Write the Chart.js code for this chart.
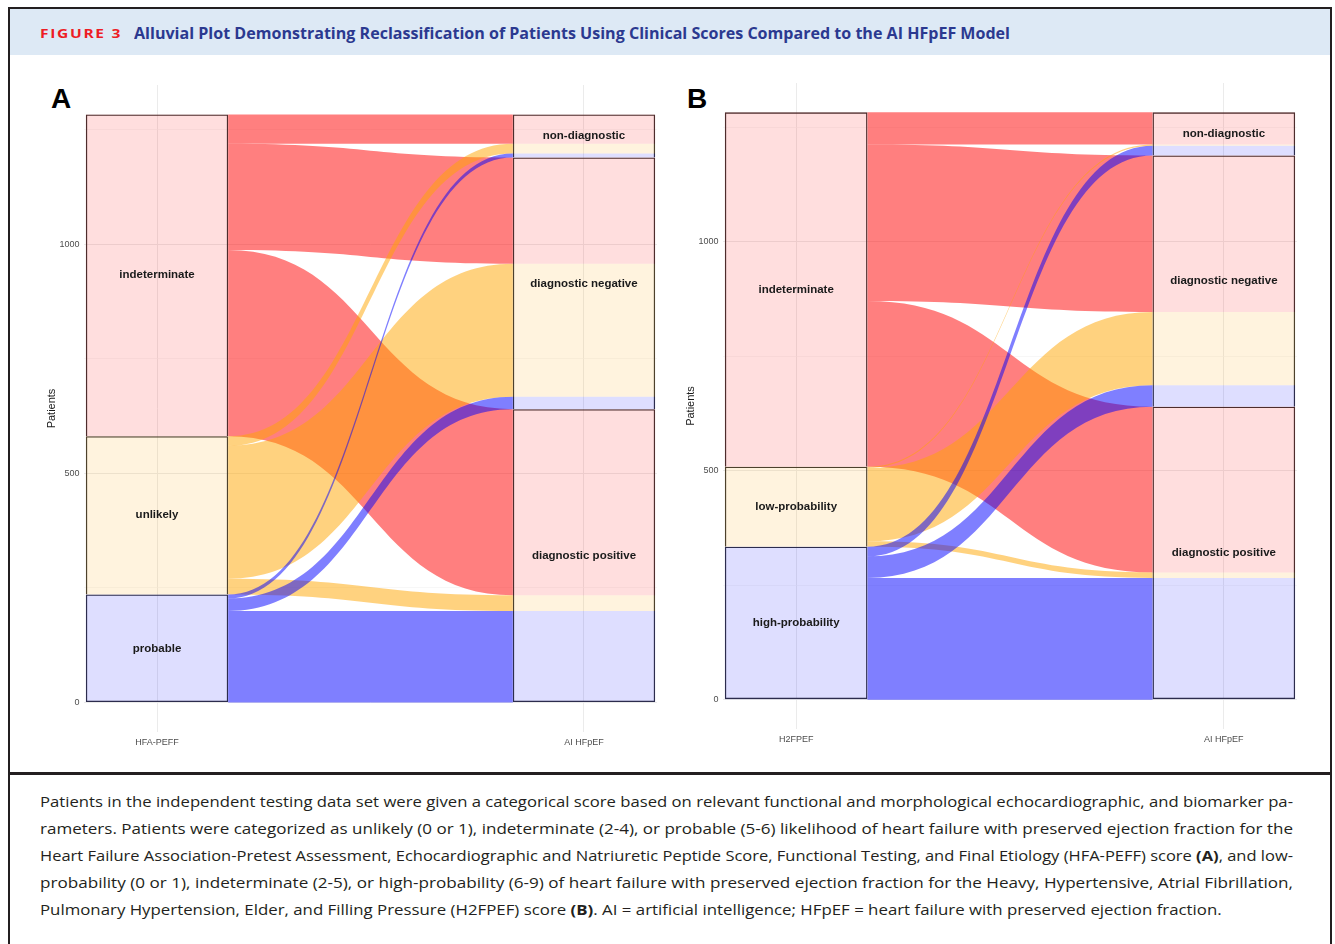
<!DOCTYPE html>
<html>
<head>
<meta charset="utf-8">
<script src="https://cdn.jsdelivr.net/npm/chart.js@4.4.1/dist/chart.umd.min.js"></script>
<style>
  html, body { margin: 0; padding: 0; background: #fff; }
  body { width: 1335px; height: 944px; position: relative; overflow: hidden; font-family: 'Liberation Sans', Arial, sans-serif; }
  #frame { position: absolute; left: 8px; top: 7px; width: 1324px; height: 960px; border: 2px solid #231f20; box-sizing: border-box; }
  #band { position: absolute; left: 10px; top: 9px; width: 1320px; height: 46px; background: #dde9f5; }
  .fit { position: absolute; white-space: nowrap; display: inline-block; transform-origin: 0 50%; }
  #fig { left: 40px; top: 25px; font: 700 13px/16px 'Open Sans', sans-serif; color: #ed1c24; letter-spacing: 1.4px; }
  #ttl { left: 134px; top: 23px; font: 700 16px/20px 'Open Sans', sans-serif; color: #2b3990; }
  #sep { position: absolute; left: 10px; top: 772px; width: 1320px; height: 3px; background: #231f20; }
  .cap { position: absolute; left: 40px; font: 400 14px/27px 'Open Sans', sans-serif; color: #231f20; }
  .panel { position: absolute; font: 700 28px/28px 'Liberation Sans', Arial, sans-serif; color: #000; }
  canvas { position: absolute; }
</style>
</head>
<body>
<div id="frame"></div>
<div id="band"></div>
<span id="fig" class="fit">FIGURE 3</span>
<span id="ttl" class="fit">Alluvial Plot Demonstrating Reclassification of Patients Using Clinical Scores Compared to the AI HFpEF Model</span>
<div class="panel" style="left:51px;top:85px;">A</div>
<div class="panel" style="left:687px;top:85px;">B</div>
<canvas id="chartA" width="650" height="710" style="left:20px;top:60px;width:650px;height:710px;"></canvas>
<canvas id="chartB" width="651" height="709" style="left:659px;top:58px;width:651px;height:709px;"></canvas>
<div id="sep"></div>
<span class="cap fit" id="c1" style="top:788px;">Patients in the independent testing data set were given a categorical score based on relevant functional and morphological echocardiographic, and biomarker pa-</span>
<span class="cap fit" id="c2" style="top:815px;">rameters. Patients were categorized as unlikely (0 or 1), indeterminate (2-4), or probable (5-6) likelihood of heart failure with preserved ejection fraction for the</span>
<span class="cap fit" id="c3" style="top:842px;">Heart Failure Association-Pretest Assessment, Echocardiographic and Natriuretic Peptide Score, Functional Testing, and Final Etiology (HFA-PEFF) score <b>(A)</b>, and low-</span>
<span class="cap fit" id="c4" style="top:869px;">probability (0 or 1), indeterminate (2-5), or high-probability (6-9) of heart failure with preserved ejection fraction for the Heavy, Hypertensive, Atrial Fibrillation,</span>
<span class="cap fit" id="c5" style="top:896px;">Pulmonary Hypertension, Elder, and Filling Pressure (H2FPEF) score <b>(B)</b>. AI = artificial intelligence; HFpEF = heart failure with preserved ejection fraction.</span>

<script>
// ---------------- DATA ----------------
const rightStrata = ['diagnostic positive', 'diagnostic negative', 'non-diagnostic']; // bottom -> top

// Panel A: HFA-PEFF (bottom -> top)
const leftStrataA = ['probable', 'unlikely', 'indeterminate'];
const probableToAI = [200, 27, 9];          // to positive, negative, non-diagnostic
const unlikelyToAI = [34, 290, 21];
const indeterminateHFAToAI = [406, 232, 64];
const axisNamesA = ['HFA-PEFF', 'AI HFpEF'];

// Panel B: H2FPEF (bottom -> top)
const leftStrataB = ['high-probability', 'low-probability', 'indeterminate'];
const highProbToAI = [266, 47, 21];
const lowProbToAI = [12, 160, 3];
const indeterminateH2ToAI = [362, 342, 70];
const axisNamesB = ['H2FPEF', 'AI HFpEF'];

const yTickValues = [0, 500, 1000];
const yMinorValues = [250, 750, 1250];

// ---------------- STYLE ----------------
const flowColors = ['rgba(0,0,255,0.5)', 'rgba(255,165,0,0.5)', 'rgba(255,0,0,0.5)'];
const strataColors = ['rgba(0,0,255,0.13)', 'rgba(255,165,0,0.13)', 'rgba(255,0,0,0.13)'];
const stratumWidth = 1 / 3;
const xPad = 0.171;

Chart.defaults.font.family = "'Liberation Sans', Arial, Helvetica, sans-serif";
Chart.defaults.animation = false;

function sum(a) { return a.reduce((s, v) => s + v, 0); }

function makePanel(canvasId, leftNames, matrix, axisNames) {
  const nL = leftNames.length, nR = rightStrata.length;
  const leftTot = matrix.map(sum);
  const rightTot = rightStrata.map((_, j) => sum(matrix.map(r => r[j])));
  const total = sum(leftTot);
  const leftBase = [], rightBase = [];
  let acc = 0; leftTot.forEach(v => { leftBase.push(acc); acc += v; });
  acc = 0; rightTot.forEach(v => { rightBase.push(acc); acc += v; });

  const flows = [];
  for (let i = 0; i < nL; i++) {
    for (let j = 0; j < nR; j++) {
      const v = matrix[i][j];
      let lLo = leftBase[i]; for (let k = 0; k < j; k++) lLo += matrix[i][k];
      let rLo = rightBase[j]; for (let k = 0; k < i; k++) rLo += matrix[k][j];
      flows.push({ i, j, v, l: [lLo, lLo + v], r: [rLo, rLo + v] });
    }
  }

  const segData = [], segColors = [];
  for (let i = 0; i < nL; i++) { segData.push({ x: 1, y: [leftBase[i], leftBase[i] + leftTot[i]] }); segColors.push(strataColors[i]); }
  flows.forEach(f => { segData.push({ x: 2, y: f.r }); segColors.push(strataColors[f.i]); });
  const outData = [], outBottom = [];
  for (let i = 0; i < nL; i++) { outData.push({ x: 1, y: [leftBase[i], leftBase[i] + leftTot[i]] }); outBottom.push(i === 0); }
  for (let j = 0; j < nR; j++) { outData.push({ x: 2, y: [rightBase[j], rightBase[j] + rightTot[j]] }); outBottom.push(j === 0); }

  const labels = [];
  for (let i = 0; i < nL; i++) labels.push({ x: 1, y: leftBase[i] + leftTot[i] / 2, t: leftNames[i] });
  for (let j = 0; j < nR; j++) labels.push({ x: 2, y: rightBase[j] + rightTot[j] / 2, t: rightStrata[j] });

  const alluvial = {
    id: 'alluvial',
    beforeDatasetsDraw(chart) {
      const { ctx } = chart; const xs = chart.scales.x, ys = chart.scales.y;
      const x0 = xs.getPixelForValue(1 + stratumWidth / 2);
      const x1 = xs.getPixelForValue(2 - stratumWidth / 2);
      const xm = (x0 + x1) / 2;
      ctx.save();
      const ordered = flows.slice().sort((a, b) => b.i - a.i);
      ordered.forEach(f => {
        if (f.v <= 0) return;
        const lt = ys.getPixelForValue(f.l[1]), lb = ys.getPixelForValue(f.l[0]);
        const rt = ys.getPixelForValue(f.r[1]), rb = ys.getPixelForValue(f.r[0]);
        ctx.beginPath();
        ctx.moveTo(x0, lt);
        ctx.bezierCurveTo(xm, lt, xm, rt, x1, rt);
        ctx.lineTo(x1, rb);
        ctx.bezierCurveTo(xm, rb, xm, lb, x0, lb);
        ctx.closePath();
        ctx.fillStyle = flowColors[f.i];
        ctx.fill();
      });
      ctx.restore();
    },
    afterDatasetsDraw(chart) {
      const { ctx } = chart; const xs = chart.scales.x, ys = chart.scales.y;
      ctx.save();
      ctx.font = "bold 11.5px 'Liberation Sans', Arial, sans-serif";
      ctx.fillStyle = '#1a1a1a';
      ctx.textAlign = 'center';
      ctx.textBaseline = 'middle';
      labels.forEach(l => ctx.fillText(l.t, xs.getPixelForValue(l.x), ys.getPixelForValue(l.y)));
      ctx.restore();
    }
  };

  const yGrid = yTickValues.concat(yMinorValues).sort((a, b) => a - b);

  return new Chart(document.getElementById(canvasId), {
    type: 'bar',
    data: {
      datasets: [
        { data: segData, backgroundColor: segColors, borderWidth: 0, grouped: false,
          barPercentage: stratumWidth, categoryPercentage: 1 },
        { data: outData, backgroundColor: 'rgba(0,0,0,0)', borderColor: '#333333',
          borderWidth: c => ({ left: 1.3, right: 1.3, top: 1.3, bottom: outBottom[c.dataIndex] ? 1.3 : 0 }),
          borderSkipped: false, grouped: false, barPercentage: stratumWidth, categoryPercentage: 1 }
      ]
    },
    options: {
      responsive: false,
      animation: false,
      layout: { padding: { top: 25, right: 13, left: 0, bottom: 0 } },
      plugins: { legend: { display: false }, tooltip: { enabled: false } },
      scales: {
        x: {
          type: 'linear', min: 1 - xPad, max: 2 + xPad, offset: false,
          afterBuildTicks: s => { s.ticks = axisNames.map((_, k) => ({ value: k + 1 })); },
          afterFit: s => { s.height = 38; },
          border: { display: false },
          grid: { offset: false, drawTicks: false, color: '#ebebeb', lineWidth: 1 },
          ticks: { padding: 5, color: '#4d4d4d', font: { size: 9 }, maxRotation: 0, autoSkip: false,
                   callback: v => axisNames[Math.round(v) - 1] || '' }
        },
        y: {
          type: 'linear', min: -0.05 * total, max: 1.05 * total,
          afterBuildTicks: s => { s.ticks = yGrid.map(v => ({ value: v })); },
          afterFit: s => { s.width = 64; },
          border: { display: false },
          grid: { drawTicks: false,
                  color: c => yTickValues.includes(c.tick && c.tick.value) ? '#ebebeb' : '#f2f2f2',
                  lineWidth: c => yTickValues.includes(c.tick && c.tick.value) ? 1 : 0.6 },
          ticks: { padding: 4.5, color: '#4d4d4d', font: { size: 9 }, autoSkip: false,
                   callback: v => yTickValues.includes(v) ? String(v) : '' },
          title: { display: true, text: 'Patients', color: '#1a1a1a', font: { size: 11 }, padding: { top: 25, bottom: 0 } }
        }
      }
    },
    plugins: [alluvial]
  });
}

makePanel('chartA', leftStrataA, [probableToAI, unlikelyToAI, indeterminateHFAToAI], axisNamesA);
makePanel('chartB', leftStrataB, [highProbToAI, lowProbToAI, indeterminateH2ToAI], axisNamesB);

function natW(el) { el.style.transform = 'none'; return el.getBoundingClientRect().width; }
function fitTo(el, w) { const n = natW(el); el.style.transform = 'scaleX(' + (w / n) + ')'; return w / n; }
fitTo(document.getElementById('fig'), 82);
fitTo(document.getElementById('ttl'), 876);
const scales = ['c1', 'c2', 'c3', 'c4'].map(id => fitTo(document.getElementById(id), 1253));
const avg = sum(scales) / scales.length;
const c5 = document.getElementById('c5'); natW(c5); c5.style.transform = 'scaleX(' + avg + ')';
</script>
</body>
</html>
